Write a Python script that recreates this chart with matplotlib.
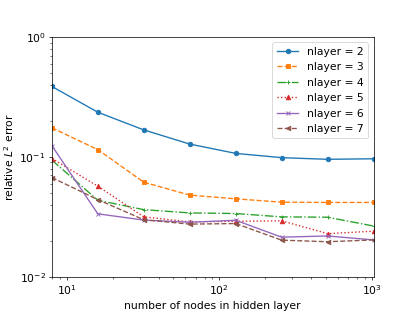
import matplotlib
matplotlib.use("Agg")
import matplotlib.pyplot as plt

nodes = [8, 16, 32, 64, 128, 256, 512, 1024]
err2 = [0.387, 0.236, 0.168, 0.128, 0.107, 0.0986, 0.0955, 0.0965]
err3 = [0.175, 0.115, 0.0615, 0.048, 0.0447, 0.0419, 0.0417, 0.0417]
err4 = [0.094, 0.0435, 0.0363, 0.0341, 0.0337, 0.0316, 0.0314, 0.0265]
err5 = [0.097, 0.057, 0.0316, 0.0287, 0.029, 0.0293, 0.0229, 0.024]
err6 = [0.124, 0.0335, 0.0297, 0.0285, 0.0296, 0.0214, 0.0219, 0.0203]
err7 = [0.0673, 0.044, 0.0299, 0.0275, 0.0278, 0.0202, 0.0196, 0.0203]

series = [
    ("nlayer = 2", err2, "o", "-"),
    ("nlayer = 3", err3, "s", "--"),
    ("nlayer = 4", err4, "+", "-."),
    ("nlayer = 5", err5, "^", ":"),
    ("nlayer = 6", err6, "x", "-"),
    ("nlayer = 7", err7, "<", "--"),
]

plt.rcParams["font.size"] = 12
fig, ax = plt.subplots(figsize=(6.4, 4.8), dpi=64.85)
for label, vals, m, ls in series:
    ax.plot(nodes, vals, marker=m, linestyle=ls, label=label, markersize=5)
ax.set_xscale("log")
ax.set_yscale("log")
ax.set_xlim(8, 1024)
ax.set_ylim(1e-2, 1)
ax.set_xlabel("number of nodes in hidden layer")
ax.set_ylabel("relative $L^2$ error")
ax.legend(loc="upper right")
fig.savefig("out.png", dpi=64.85)
